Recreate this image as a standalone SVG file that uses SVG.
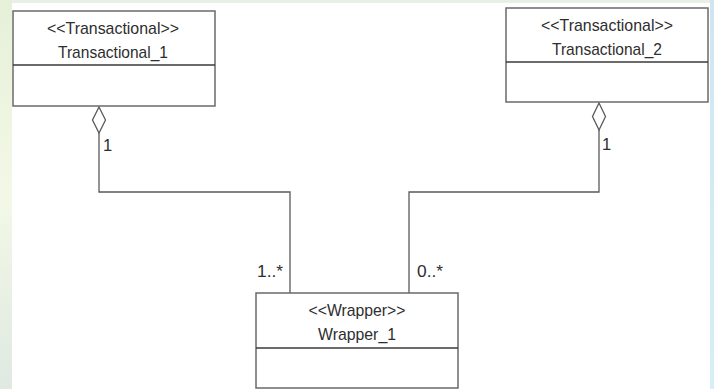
<svg xmlns="http://www.w3.org/2000/svg" width="714" height="389" viewBox="0 0 714 389">
<defs>
<linearGradient id="lg" x1="0" y1="0" x2="0" y2="1">
<stop offset="0" stop-color="#e6f0d8"/>
<stop offset="0.5" stop-color="#f3f8e6"/>
<stop offset="1" stop-color="#dfe9e2"/>
</linearGradient>
<linearGradient id="rg" x1="0" y1="0" x2="0" y2="1">
<stop offset="0" stop-color="#cfe6f0"/>
<stop offset="1" stop-color="#d6eef6"/>
</linearGradient>
</defs>
<style>
.box{fill:#ffffff;stroke:#6a6a6a;stroke-width:1.5}
.div{stroke:#3a3a3a;stroke-width:1.5}
.t{font-family:"Liberation Sans",Arial,sans-serif;font-size:17px;fill:#2e2e2e;text-anchor:middle}
.m{font-family:"Liberation Sans",Arial,sans-serif;font-size:16.5px;fill:#2e2e2e}
.c{fill:none;stroke:#5a5a5a;stroke-width:1.3}
.d{fill:#ffffff;stroke:#5a5a5a;stroke-width:1.3}
</style>
<rect x="0" y="0" width="714" height="389" fill="#ffffff"/>
<rect x="0" y="0" width="714" height="3" fill="#e8f0e6"/>
<rect x="0" y="0" width="12" height="389" fill="url(#lg)"/>
<rect x="710" y="0" width="4" height="389" fill="url(#rg)"/>
<g id="connectors">
<polyline class="c" points="99,133 99,192 290,192 290,293"/>
<polygon class="d" points="99,107 105.5,120 99,133 92.5,120"/>
<polyline class="c" points="599,130 599,192 409,192 409,293"/>
<polygon class="d" points="599,103 605.5,116.5 599,130 592.5,116.5"/>
<text class="m" x="103" y="151">1</text>
<text class="m" x="602" y="150">1</text>
<text class="m" x="257" y="277" textLength="26" lengthAdjust="spacingAndGlyphs">1..*</text>
<text class="m" x="417" y="277" textLength="26" lengthAdjust="spacingAndGlyphs">0..*</text>
</g>
<g id="Transactional_1">
<rect class="box" x="13" y="11" width="202" height="95"/>
<line class="div" x1="13" y1="65" x2="215" y2="65"/>
<text class="t" x="113" y="34" textLength="132" lengthAdjust="spacingAndGlyphs">&lt;&lt;Transactional&gt;&gt;</text>
<text class="t" x="113" y="58" textLength="110" lengthAdjust="spacingAndGlyphs">Transactional_1</text>
</g>
<g id="Transactional_2">
<rect class="box" x="506" y="8" width="202" height="94"/>
<line class="div" x1="506" y1="62" x2="708" y2="62"/>
<text class="t" x="607" y="31" textLength="132" lengthAdjust="spacingAndGlyphs">&lt;&lt;Transactional&gt;&gt;</text>
<text class="t" x="607" y="55" textLength="110" lengthAdjust="spacingAndGlyphs">Transactional_2</text>
</g>
<g id="Wrapper_1">
<rect class="box" x="256" y="293" width="202" height="95"/>
<line class="div" x1="256" y1="348" x2="458" y2="348"/>
<text class="t" x="357" y="316" textLength="97" lengthAdjust="spacingAndGlyphs">&lt;&lt;Wrapper&gt;&gt;</text>
<text class="t" x="357" y="340" textLength="78" lengthAdjust="spacingAndGlyphs">Wrapper_1</text>
</g>
</svg>
